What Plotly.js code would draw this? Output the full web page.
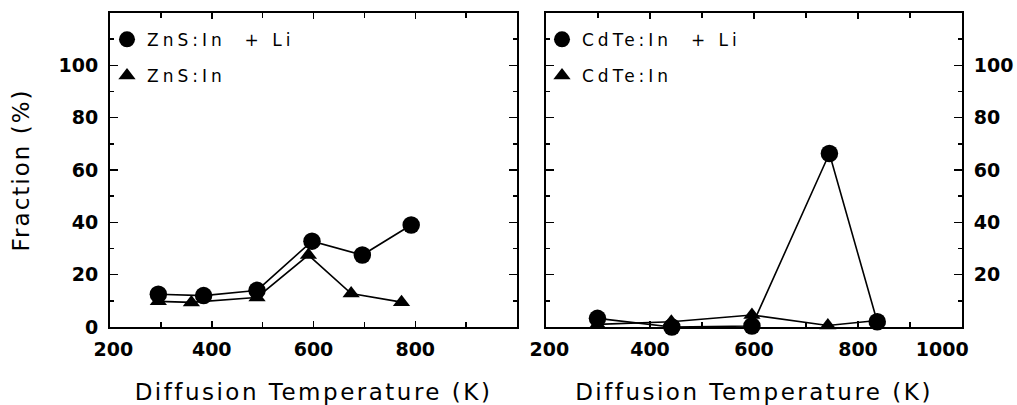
<!DOCTYPE html>
<html>
<head>
<meta charset="utf-8">
<script src="https://cdn.plot.ly/plotly-3.0.1.min.js"></script>
<style>
  html, body { margin: 0; padding: 0; background: #fff; }
  #chart { width: 1017px; height: 405px; }
  text.xtitle, text.x2title { letter-spacing: 2.5px; }
  text.ytitle { letter-spacing: 2px; }
  text.legendtext, text.legend2text, g.legend2 text { letter-spacing: 4px; }
</style>
</head>
<body>
<div id="chart"></div>
<script>
// ---- Data ----
// Left panel: ZnS
const znsLiTemp = [295, 384, 489, 597, 696, 792];
const znsLiFrac = [12.5, 12, 14, 32.8, 27.5, 39];
const znsTemp = [295, 360, 489, 590, 674, 773];
const znsFrac = [9.8, 9.4, 11.3, 27.5, 12.8, 9.5];
// Right panel: CdTe
const cdteLiTemp = [299, 442, 596, 745, 837];
const cdteLiFrac = [3.3, 0, 0.4, 66.3, 2];
const cdteTemp = [299, 441, 596, 742, 837];
const cdteFrac = [1, 2, 4.6, 0.6, 2.5];

const nameZnsLi = 'ZnS:In\u00a0\u00a0+\u00a0Li';
const nameZns = 'ZnS:In';
const nameCdteLi = 'CdTe:In\u00a0\u00a0+\u00a0Li';
const nameCdte = 'CdTe:In';

const xTicksLeft = [200, 400, 600, 800];
const xTicksRight = [200, 400, 600, 800, 1000];
const yTicksLeft = [0, 20, 40, 60, 80, 100];
const yTicksRight = [20, 40, 60, 80, 100];

// ---- Styling ----
const BLACK = '#000000';
const NB = '\u00a0';
const lineStyle = {color: BLACK, width: 1.6};
const circle = {symbol: 'circle', size: 17.5, color: BLACK};
const triangle = {symbol: 'triangle-up', size: 15, color: BLACK};

// edge labels are nudged inward as in the original figure
function xTickText(ticks) {
  return ticks.map(function (v, i) {
    var s = String(v);
    if (i === 0) return NB + s;
    if (v === 1000) return s + NB + NB + NB + NB + NB + NB;
    return s;
  });
}

function lineTrace(x, y, xa, ya) {
  return {x: x, y: y, xaxis: xa, yaxis: ya, mode: 'lines', line: lineStyle,
          showlegend: false, hoverinfo: 'skip', cliponaxis: false};
}
function markTrace(x, y, xa, ya, m, name, lg, grp) {
  return {x: x, y: y, xaxis: xa, yaxis: ya, mode: 'markers', marker: m,
          name: name, legend: lg, legendgroup: grp, showlegend: true, cliponaxis: false};
}

const data = [
  lineTrace(znsTemp, znsFrac, 'x', 'y'),
  lineTrace(znsLiTemp, znsLiFrac, 'x', 'y'),
  markTrace(znsLiTemp, znsLiFrac, 'x', 'y', circle, nameZnsLi, 'legend', 'a'),
  markTrace(znsTemp, znsFrac, 'x', 'y', triangle, nameZns, 'legend', 'b'),
  lineTrace(cdteTemp, cdteFrac, 'x2', 'y2'),
  lineTrace(cdteLiTemp, cdteLiFrac, 'x2', 'y2'),
  markTrace(cdteLiTemp, cdteLiFrac, 'x2', 'y2', circle, nameCdteLi, 'legend2', 'c'),
  markTrace(cdteTemp, cdteFrac, 'x2', 'y2', triangle, nameCdte, 'legend2', 'd')
];

const tickFont = {family: 'DejaVu Sans', size: 19, color: BLACK, weight: 'bold'};
const titleFont = {family: 'DejaVu Sans', size: 23, color: BLACK};

function xAxis(domain, ticks, anchor) {
  return {
    domain: domain, anchor: anchor, range: [200, 1000],
    tickmode: 'array', tickvals: ticks, ticktext: xTickText(ticks),
    ticks: 'inside', ticklen: 6, tickwidth: 1.5, tickcolor: BLACK,
    minor: {dtick: 100, tick0: 0, ticks: 'inside', ticklen: 5, tickwidth: 1.5, tickcolor: BLACK},
    showline: true, linecolor: BLACK, linewidth: 2, mirror: 'ticks',
    showgrid: false, zeroline: false, tickfont: tickFont, ticklabelstandoff: 4,
    title: {text: 'Diffusion Temperature (K)', font: titleFont, standoff: 25},
    fixedrange: true
  };
}
function yAxis(ticks, anchor, side) {
  return {
    domain: [0, 1], anchor: anchor, range: [0, 120], side: side,
    tickmode: 'array', tickvals: ticks, ticktext: ticks.map(String),
    ticks: 'inside', ticklen: 8, tickwidth: 1.5, tickcolor: BLACK,
    minor: {dtick: 10, tick0: 0, ticks: 'inside', ticklen: 4, tickwidth: 1.5, tickcolor: BLACK},
    showline: true, linecolor: BLACK, linewidth: 2, mirror: 'ticks',
    showgrid: false, zeroline: false, tickfont: tickFont, ticklabelstandoff: 6,
    fixedrange: true
  };
}

const legendBase = {
  xanchor: 'left', yanchor: 'top', y: 0.972, bgcolor: 'rgba(0,0,0,0)', borderwidth: 0,
  font: {family: 'DejaVu Sans', size: 17, color: BLACK}, itemsizing: 'trace',
  tracegroupgap: 11, traceorder: 'grouped', itemclick: false, itemdoubleclick: false
};

const layout = {
  width: 1017, height: 405,
  margin: {l: 0, r: 0, t: 13, b: 78, pad: 0},
  paper_bgcolor: '#ffffff', plot_bgcolor: '#ffffff',
  showlegend: true,
  xaxis: xAxis([110 / 1017, 517 / 1017], xTicksLeft, 'y'),
  yaxis: Object.assign(yAxis(yTicksLeft, 'x', 'left'),
          {title: {text: 'Fraction (%)', font: titleFont, standoff: 22}}),
  xaxis2: xAxis([546 / 1017, 962 / 1017], xTicksRight, 'y2'),
  yaxis2: yAxis(yTicksRight, 'x2', 'right'),
  legend: Object.assign({}, legendBase, {x: 107 / 1017}),
  legend2: Object.assign({}, legendBase, {x: 542 / 1017})
};

Plotly.newPlot('chart', data, layout, {displayModeBar: false, staticPlot: true});
</script>
</body>
</html>
